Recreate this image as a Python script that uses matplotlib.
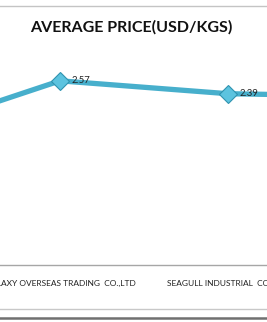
import numpy as np
import matplotlib.pyplot as plt
from matplotlib.lines import Line2D

# --- data (first and last points sit outside the visible crop) ---
companies = ["", "GALAXY OVERSEAS TRADING  CO.,LTD", "SEAGULL INDUSTRIAL  CO.,LTD", ""]
avg_price = [1.79, 2.57, 2.39, 2.35]
title = "AVERAGE PRICE(USD/KGS)"

W, H = 267, 322
fig = plt.figure(figsize=(W / 100, H / 100), dpi=100)

# axes wider than the figure: only the middle two categories are visible
ax_left, ax_right = -192, 480
ax_bottom, ax_top = 265, 50
ax = fig.add_axes([ax_left / W, (H - ax_bottom) / H,
                   (ax_right - ax_left) / W, (ax_bottom - ax_top) / H])
ax.patch.set_alpha(0)

x = np.arange(len(companies))
line_col = '#47afcc'
ax.plot(x, avg_price, color=line_col, lw=3.8, solid_capstyle='butt', zorder=2)
ax.plot(x, avg_price, ls='none', marker='D', ms=9.5, mfc='#5cc3df',
        mec='#2f93b0', mew=0.8, zorder=3)

for xi, v in zip(x, avg_price):
    ax.annotate(f"{v:.2f}", (xi, v), xytext=(8.5, 0), textcoords='offset points',
                ha='left', va='center', fontsize=6.8, color='#222222',
                family='Lato')

ax.set_xlim(-0.5, len(companies) - 0.5)
ax.set_ylim(0, 3)
ax.set_xticks(x)
ax.set_xticklabels(companies, fontsize=6.0, family='Lato', color='#222222')
ax.tick_params(axis='x', length=0, pad=11)
ax.set_yticks([])
for s in ['top', 'left', 'right']:
    ax.spines[s].set_visible(False)
ax.spines['bottom'].set_color('#a6a6a6')
ax.spines['bottom'].set_linewidth(1.0)

fig.text(131 / W, 1 - 27 / H, title, ha='center', va='center',
         fontsize=11.5, fontweight='bold', family='Lato', color='#111111')

# chart frame lines
fig.add_artist(Line2D([0, 1], [1 - 6 / H, 1 - 6 / H], color='#c4c4c4', lw=1.0))
fig.add_artist(Line2D([0, 1], [1 - 309 / H, 1 - 309 / H], color='#c8c8c8', lw=1.0))
fig.add_artist(Line2D([0, 1], [1 - 318 / H, 1 - 318 / H], color='#707070', lw=1.8))

plt.savefig("out.png", dpi=100)
